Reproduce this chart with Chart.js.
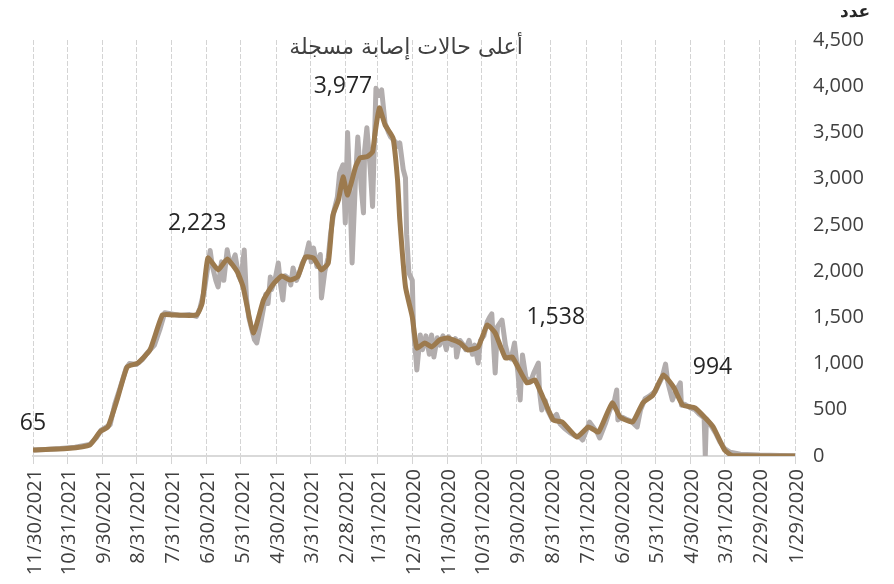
<!DOCTYPE html>
<html lang="ar">
<head>
  <meta charset="UTF-8" />
  <title>أعلى حالات إصابة مسجلة</title>
  <script src="https://cdn.jsdelivr.net/npm/chart.js"></script>
  <style>
    html, body { margin: 0; padding: 0; background: #fff; }
    #wrap { width: 894px; height: 584px; position: relative; }
  </style>
</head>
<body>
  <div id="wrap"><canvas id="myChart"></canvas></div>

  <script>
    // day 0 = 1/29/2020
    const startDate = new Date(2020, 0, 29);

    const tickLabels = ['1/29/2020', '2/29/2020', '3/31/2020', '4/30/2020', '5/31/2020', '6/30/2020',
      '7/31/2020', '8/31/2020', '9/30/2020', '10/31/2020', '11/30/2020', '12/31/2020',
      '1/31/2021', '2/28/2021', '3/31/2021', '4/30/2021', '5/31/2021', '6/30/2021',
      '7/31/2021', '8/31/2021', '9/30/2021', '10/31/2021', '11/30/2021'];

    const yTicks = [0, 500, 1000, 1500, 2000, 2500, 3000, 3500, 4000, 4500];

    // daily cases (grey)
    const dailyDays = [671, 660, 647, 634, 621, 615, 611, 607, 603, 599, 594, 589, 586, 580, 575, 570, 564, 559, 555, 550,
      542, 533, 527, 524, 520, 517, 515, 513, 510, 508, 505, 503, 500, 498, 496, 493, 490, 488, 485, 483,
      481, 478, 476, 474, 471, 468, 466, 464, 462, 461, 458, 455, 453, 451, 449, 446, 444, 442, 439, 437,
      434, 431, 428, 426, 424, 421, 418, 417, 414, 411, 409, 406, 403, 401, 398, 396, 394, 392, 390, 387,
      385, 382, 380, 379, 377, 374, 372, 369, 366, 364, 361, 358, 356, 352, 350, 348, 345, 343, 342, 340,
      337, 336, 333, 330, 328, 325, 322, 320, 318, 315, 313, 310, 307, 305, 302, 299, 298, 295, 292, 290,
      287, 284, 282, 279, 277, 274, 271, 269, 267, 264, 262, 258, 255, 253, 250, 247, 244, 242, 240, 237,
      233, 230, 226, 225, 223, 220, 218, 214, 210, 207, 203, 198, 194, 189, 187, 183, 181, 177, 174, 172,
      167, 163, 159, 157, 156, 152, 149, 145, 142, 139, 136, 132, 128, 123, 121, 117, 114, 112, 108, 105,
      101, 100, 97, 92, 88, 84, 81, 80, 79, 78, 75, 70, 66, 62, 57, 48, 31, 13, 0];
    const dailyCases = [65, 70, 80, 95, 125, 200, 280, 310, 340, 560, 750, 950, 1000, 990, 1040, 1120, 1200, 1380, 1550, 1540,
      1520, 1530, 1510, 1600, 1800, 2050, 2223, 2050, 1900, 1829, 2100, 1900, 2230, 2100, 2080, 2175, 1950, 1900, 2229, 1700,
      1500, 1350, 1260, 1223, 1400, 1600, 1750, 1650, 1937, 1800, 1900, 2088, 1850, 1688, 1950, 1920, 1850, 2034, 1900, 1960,
      2080, 2150, 2305, 2100, 2250, 2050, 2180, 1710, 2000, 2150, 2400, 2650, 2800, 3060, 3150, 2520, 3500, 2900, 2088, 3000,
      3450, 2900, 2630, 3300, 3550, 3100, 2700, 3977, 3900, 3960, 3600, 3500, 3450, 3400, 3350, 3386, 3100, 3008, 2400, 1980,
      1900, 1400, 930, 1310, 1150, 1300, 1100, 1310, 1071, 1280, 1200, 1300, 1150, 1290, 1200, 1270, 1071, 1250, 1200, 1150,
      1250, 1100, 1200, 1006, 1250, 1300, 1450, 1500, 1538, 898, 1400, 1471, 1200, 1100, 1050, 1223, 900, 606, 1093, 850,
      800, 900, 1006, 700, 498, 600, 500, 400, 450, 350, 300, 250, 220, 200, 173, 300, 368, 300, 250, 195,
      350, 500, 600, 714, 390, 420, 400, 380, 350, 314, 500, 620, 650, 700, 750, 850, 994, 800, 606, 700,
      790, 550, 560, 520, 500, 450, 420, 410, 0, 400, 350, 250, 150, 80, 40, 20, 10, 5, 2];

    // moving average (brown)
    const avgDays = [671, 641, 621, 612, 605, 597, 588, 579, 568, 557, 548, 527, 522, 517, 508, 500, 491, 486, 477, 468,
      460, 452, 445, 438, 431, 424, 417, 411, 407, 402, 398, 394, 387, 383, 377, 372, 370, 366, 361, 354,
      350, 348, 343, 337, 333, 326, 320, 313, 306, 295, 288, 279, 271, 264, 255, 249, 236, 229, 213, 205,
      192, 182, 173, 161, 154, 143, 134, 125, 116, 107, 99, 88, 79, 72, 62, 55, 0];
    const avgCases = [65, 80, 119, 263, 317, 606, 966, 1003, 1147, 1526, 1526, 1526, 1655, 2142, 2013, 2131, 1991, 1829, 1331, 1688,
      1850, 1948, 1905, 1937, 2153, 2142, 2013, 2088, 2600, 2770, 3019, 2824, 3127, 3225, 3236, 3290, 3474, 3766, 3582, 3441,
      2987, 2554, 1829, 1504, 1168, 1223, 1180, 1255, 1277, 1223, 1147, 1180, 1418, 1331, 1060, 1071, 790, 822, 390, 368,
      206, 314, 260, 574, 422, 368, 574, 660, 876, 747, 552, 519, 411, 314, 65, 5, 0];

    // highlighted values
    const peakDays = [671, 515, 369, 267, 114];
    const peakCases = [65, 2223, 3977, 1538, 994];
    const peakTexts = ['65', '2,223', '3,977', '1,538', '994'];

    const chartTitle = 'أعلى حالات إصابة مسجلة';
    const yTitle = 'عدد';

    function dayOf(label) {
      const p = label.split('/').map(Number);
      return Math.round((new Date(p[2], p[0] - 1, p[1]) - startDate) / 86400000);
    }
    const tickDays = tickLabels.map(dayOf);

    const toPoints = (xs, ys) => xs.map((d, i) => ({ x: d, y: ys[i] }));

    const labelOffsets = [[0, -27], [-13, -27], [-33, -2], [64, 4], [47, 3]];

    const extraText = {
      id: 'extraText',
      afterDatasetsDraw(chart) {
        const { ctx, scales: { x, y } } = chart;
        ctx.save();
        ctx.fillStyle = '#262626';
        ctx.font = '23px "Open Sans"';
        ctx.textAlign = 'center';
        ctx.textBaseline = 'middle';
        peakDays.forEach((d, i) => {
          ctx.fillText(peakTexts[i], x.getPixelForValue(d) + labelOffsets[i][0],
            y.getPixelForValue(peakCases[i]) + labelOffsets[i][1]);
        });
        ctx.direction = 'rtl';
        ctx.fillStyle = '#404040';
        ctx.font = '22px "DejaVu Sans", sans-serif';
        ctx.fillText(chartTitle, 406, 48);
        ctx.fillStyle = '#262626';
        ctx.font = 'bold 17px "DejaVu Sans", sans-serif';
        ctx.fillText(yTitle, 855, 13);
        ctx.restore();
      }
    };

    new Chart(document.getElementById('myChart'), {
      type: 'line',
      data: {
        datasets: [{
          data: toPoints(avgDays, avgCases),
          borderColor: '#9c7a4e',
          borderWidth: 5,
          pointRadius: 0,
          tension: 0.15,
          borderJoinStyle: 'round',
          order: 1
        }, {
          data: toPoints(dailyDays, dailyCases),
          borderColor: '#b2adad',
          borderWidth: 5,
          pointRadius: 0,
          tension: 0,
          borderJoinStyle: 'round',
          order: 2
        }]
      },
      options: {
        responsive: true,
        maintainAspectRatio: false,
        animation: false,
        layout: { padding: { left: 33, top: 40, right: 0, bottom: 0 } },
        plugins: { legend: { display: false }, tooltip: { enabled: false } },
        scales: {
          x: {
            type: 'linear',
            reverse: true,
            min: 0,
            max: 671,
            afterBuildTicks: (scale) => { scale.ticks = tickDays.map(v => ({ value: v })); },
            afterFit: (scale) => { scale.height = 128; },
            ticks: {
              autoSkip: false,
              maxRotation: 90,
              minRotation: 90,
              padding: 5,
              labelOffset: 2,
              color: '#404040',
              font: { family: 'Open Sans', size: 20 },
              callback: (v) => {
                const i = tickDays.indexOf(v);
                return i >= 0 ? tickLabels[i] : '';
              }
            },
            grid: { color: '#d4d4d4', lineWidth: 1, tickLength: 8 },
            border: { color: '#d9d9d9', width: 2, dash: [5, 2] }
          },
          y: {
            position: 'right',
            min: 0,
            max: 4500,
            afterBuildTicks: (scale) => { scale.ticks = yTicks.map(v => ({ value: v })); },
            afterFit: (scale) => { scale.width = 99; },
            ticks: {
              padding: 18,
              color: '#404040',
              font: { family: 'Open Sans', size: 20 },
              callback: (v) => v.toLocaleString('en-US')
            },
            grid: { display: false, drawTicks: false },
            border: { display: false }
          }
        }
      },
      plugins: [extraText]
    });
  </script>
</body>
</html>
